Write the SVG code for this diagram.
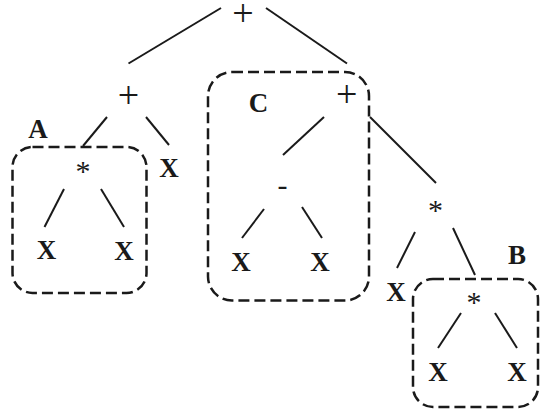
<svg xmlns="http://www.w3.org/2000/svg" width="541" height="410" viewBox="0 0 541 410">
<style>
.op{font-family:"Liberation Serif",serif;font-size:38px;fill:#1a1a1a;text-anchor:middle}
.st{font-family:"Liberation Serif",serif;font-size:30px;fill:#1a1a1a;text-anchor:middle}
.v{font-family:"Liberation Serif",serif;font-size:27px;font-weight:bold;fill:#1a1a1a;text-anchor:middle}
.box{fill:none;stroke:#1a1a1a;stroke-width:2.5;stroke-dasharray:11 5}
.e{stroke:#1a1a1a;stroke-width:2;fill:none}
</style>
<rect width="541" height="410" fill="#fff"/>
<g id="boxes">
<rect id="boxA" class="box" x="12.5" y="147" width="134" height="146" rx="20"/>
<rect id="boxC" class="box" x="208" y="72" width="161" height="228.5" rx="24"/>
<rect id="boxB" class="box" x="413" y="279" width="125" height="128" rx="20"/>
</g>
<g id="connectors">
<line class="e" x1="221" y1="8" x2="128.5" y2="63.5"/>
<line class="e" x1="266" y1="8" x2="347" y2="63.5"/>
<line class="e" x1="107" y1="117" x2="83" y2="146"/>
<line class="e" x1="146" y1="117" x2="169" y2="145"/>
<line class="e" x1="64" y1="189" x2="44.5" y2="227"/>
<line class="e" x1="101" y1="189" x2="124" y2="227"/>
<line class="e" x1="324" y1="117" x2="283" y2="155"/>
<line class="e" x1="370" y1="117" x2="436" y2="183"/>
<line class="e" x1="264" y1="209" x2="242" y2="238"/>
<line class="e" x1="302" y1="207" x2="322" y2="238"/>
<line class="e" x1="415" y1="232" x2="397" y2="268"/>
<line class="e" x1="453" y1="228" x2="475" y2="275"/>
<line class="e" x1="461" y1="313" x2="438" y2="348"/>
<line class="e" x1="495" y1="313" x2="517" y2="348"/>
</g>
<g id="n-root"><text class="op" x="243" y="25.5">+</text></g>
<g id="n-plusL"><text class="op" x="128.5" y="107.5">+</text></g>
<g id="n-xTop"><text class="v" x="169" y="177">X</text></g>
<g id="n-mulA"><text class="st" x="83" y="181">*</text></g>
<g id="n-xA1"><text class="v" x="46.5" y="258.5">X</text></g>
<g id="n-xA2"><text class="v" x="124" y="259.5">X</text></g>
<g id="n-labelA"><text class="v" x="38" y="137.5">A</text></g>
<g id="n-labelC"><text class="v" x="258.5" y="111.5">C</text></g>
<g id="n-plusC"><text class="op" x="346.7" y="106.5">+</text></g>
<g id="n-minus"><text class="st" x="282.5" y="195">-</text></g>
<g id="n-xC1"><text class="v" x="241" y="270.5">X</text></g>
<g id="n-xC2"><text class="v" x="320" y="270.5">X</text></g>
<g id="n-mulR"><text class="st" x="435.5" y="220">*</text></g>
<g id="n-xR"><text class="v" x="396" y="301">X</text></g>
<g id="n-labelB"><text class="v" x="517" y="264">B</text></g>
<g id="n-mulB"><text class="st" x="474" y="311.5">*</text></g>
<g id="n-xB1"><text class="v" x="438" y="380.5">X</text></g>
<g id="n-xB2"><text class="v" x="517" y="380.5">X</text></g>
</svg>
